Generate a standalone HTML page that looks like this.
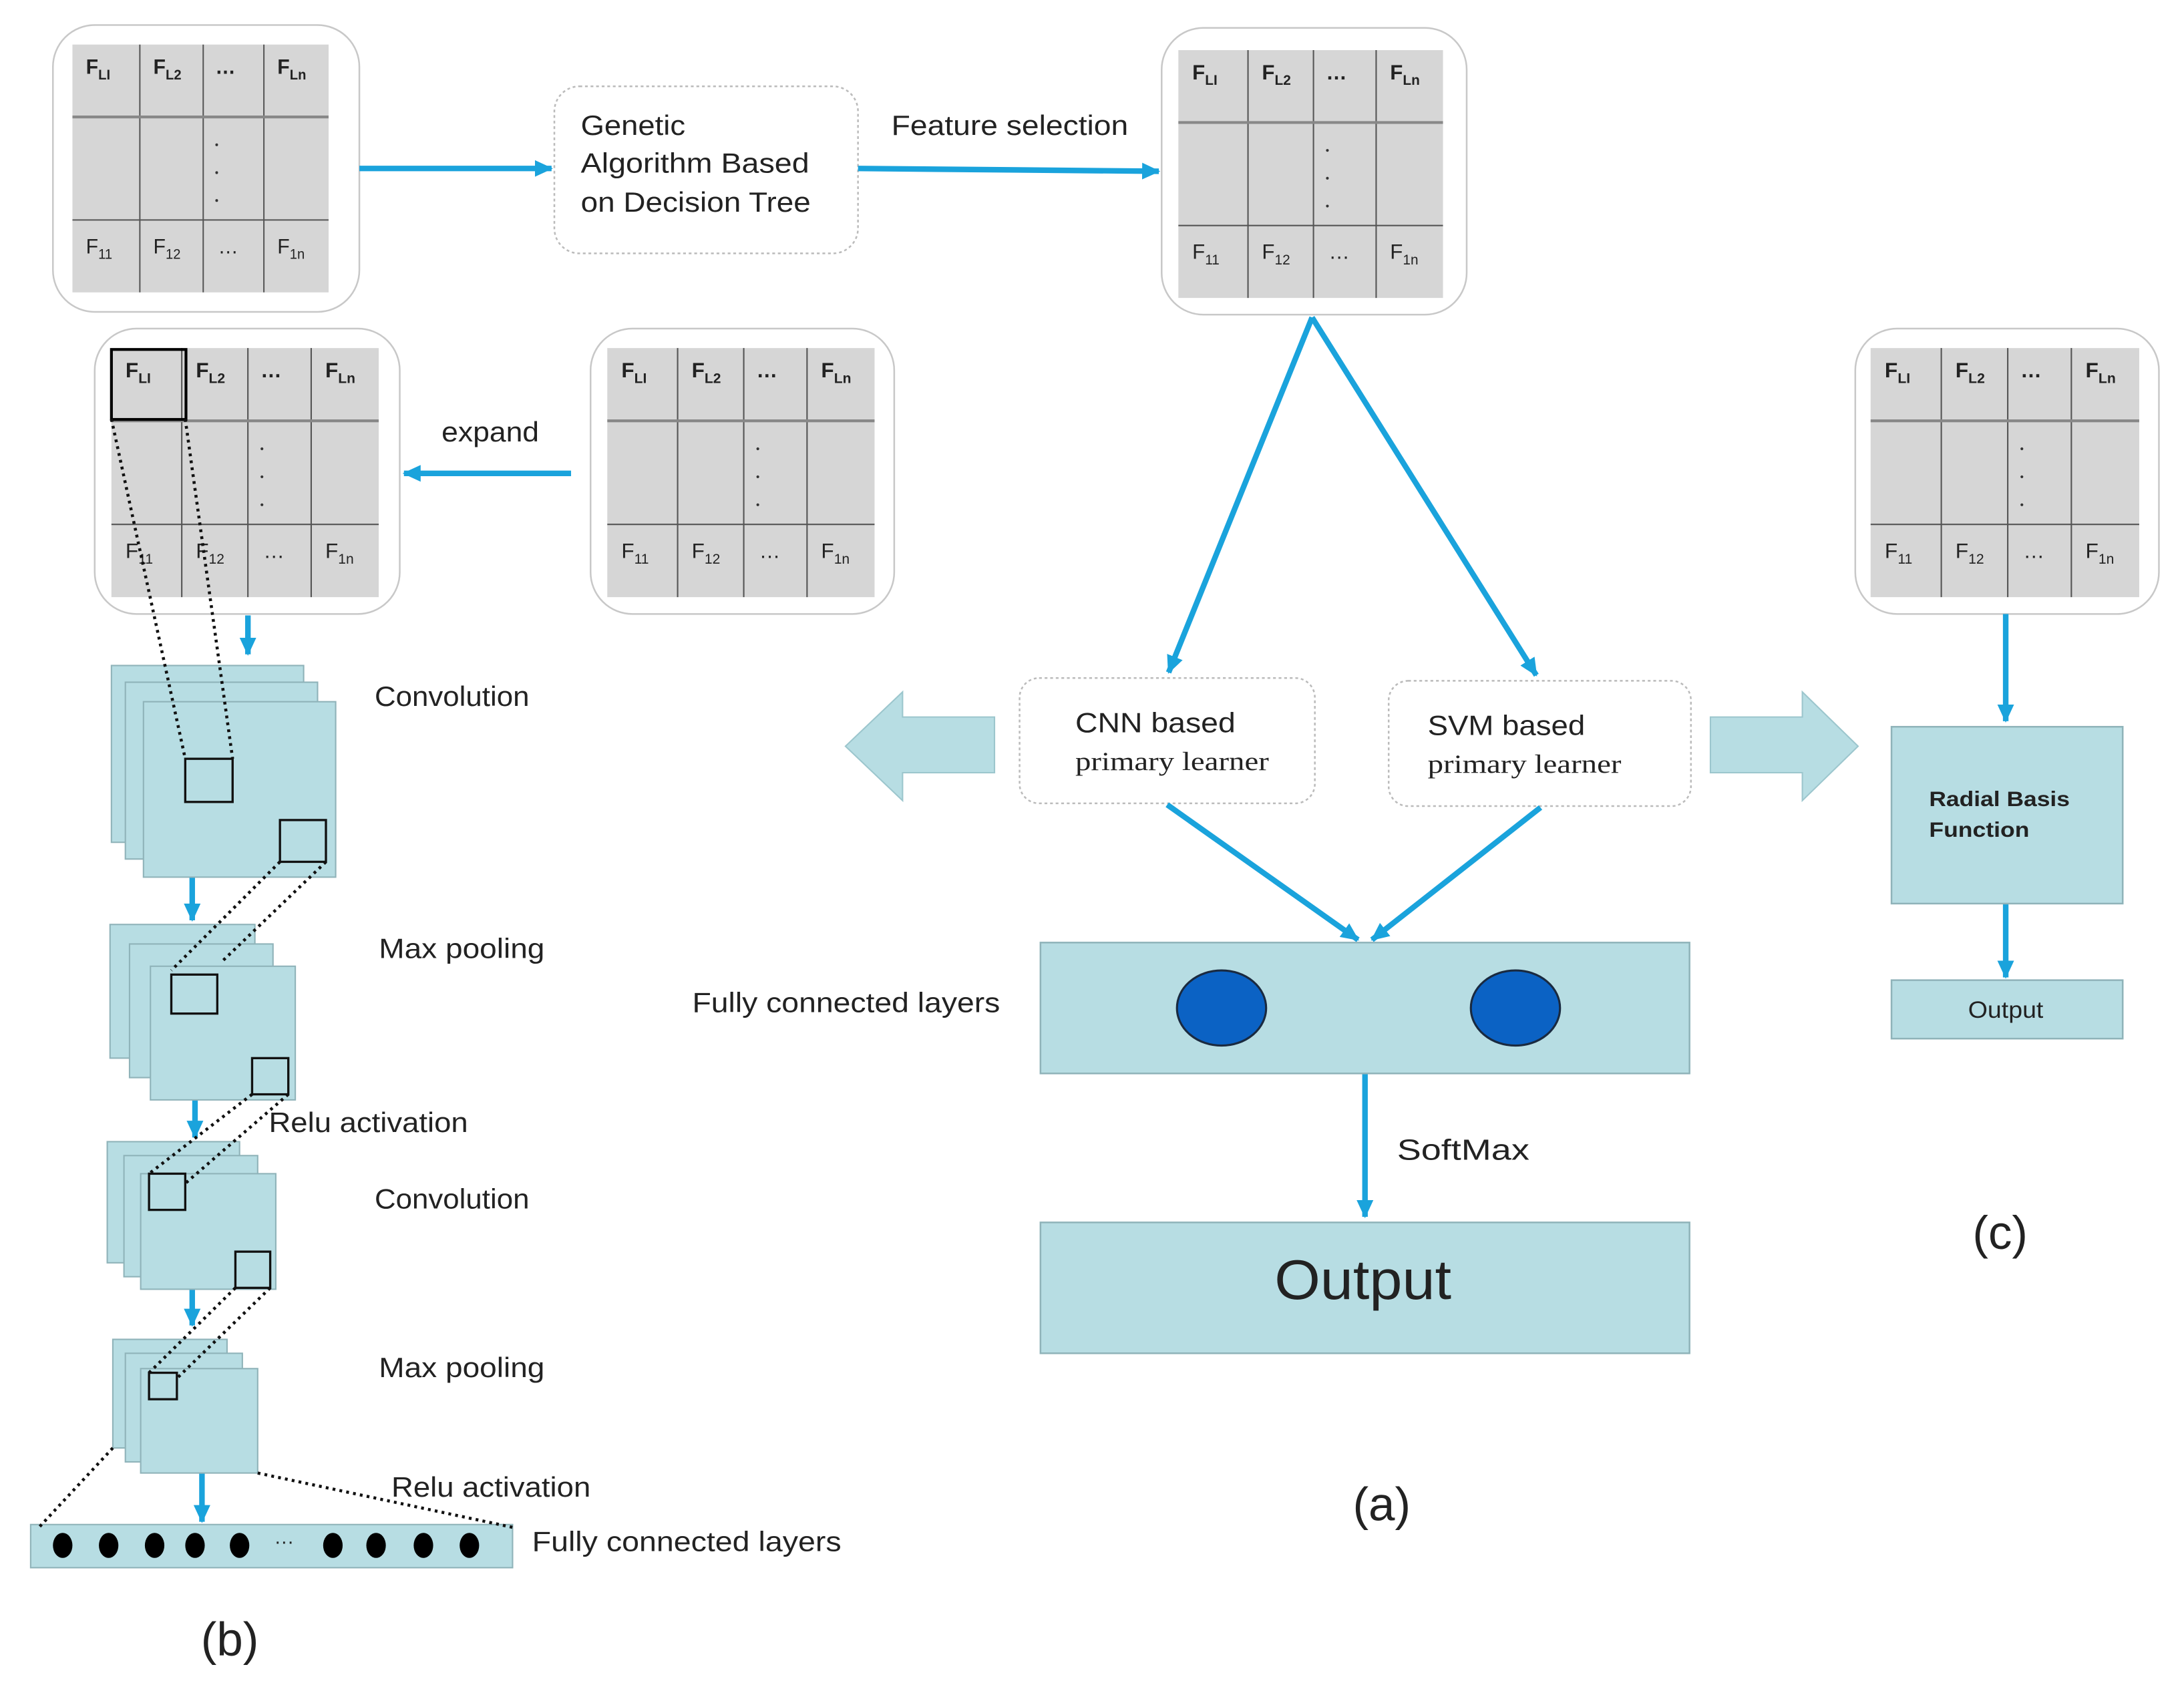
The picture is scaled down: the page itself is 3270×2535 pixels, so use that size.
<!DOCTYPE html>
<html><head><meta charset="utf-8"><style>
html,body{margin:0;padding:0;background:#fff}
svg{display:block}
text{font-family:"Liberation Sans",sans-serif;fill:#222}
</style></head><body>
<svg width="3270" height="2535" viewBox="0 0 1568 1216" preserveAspectRatio="none" xmlns="http://www.w3.org/2000/svg">
<defs>
<marker id="a2" markerWidth="14" markerHeight="14" refX="12" refY="7" orient="auto" markerUnits="userSpaceOnUse"><path d="M0,1 L13,7 L0,13 Z" fill="#1aa3dc"/></marker>
</defs>
<rect width="1568" height="1216" fill="#fff"/>

<g fill="#fff" stroke="#c8c8c8" stroke-width="1.2">
<rect x="38" y="18" width="220" height="206" rx="30"/>
<rect x="834" y="20" width="219" height="206" rx="30"/>
<rect x="68" y="236" width="219" height="205" rx="30"/>
<rect x="424" y="236" width="218" height="205" rx="30"/>
<rect x="1332" y="236" width="218" height="205" rx="30"/>
</g>
<g fill="#fff" stroke="#bbb" stroke-width="1.2" stroke-dasharray="2,2">
<rect x="398" y="62" width="218" height="120" rx="18"/>
<rect x="732" y="487" width="212" height="90" rx="14"/>
<rect x="997" y="489" width="217" height="90" rx="14"/>
</g>

<g id="tables">
<g transform="translate(52,32) scale(0.968,1)">
<rect width="190" height="178" fill="#d6d6d6"/>
<g stroke="#555" stroke-width="1"><line x1="50" y1="0" x2="50" y2="178"/><line x1="97" y1="0" x2="97" y2="178"/><line x1="142" y1="0" x2="142" y2="178"/><line x1="0" y1="52" x2="190" y2="52" stroke="#888" stroke-width="2"/><line x1="0" y1="126" x2="190" y2="126"/></g>
<text y="21" font-size="15" font-weight="bold"><tspan x="10">F</tspan><tspan font-size="10" dy="4">LI</tspan><tspan x="60" dy="-4">F</tspan><tspan font-size="10" dy="4">L2</tspan><tspan x="106" dy="-4">…</tspan><tspan x="152">F</tspan><tspan font-size="10" dy="4">Ln</tspan></text>
<text y="150" font-size="15"><tspan x="10">F</tspan><tspan font-size="10" dy="4">11</tspan><tspan x="60" dy="-4">F</tspan><tspan font-size="10" dy="4">12</tspan><tspan x="108" dy="-4">…</tspan><tspan x="152">F</tspan><tspan font-size="10" dy="4">1n</tspan></text>
<g fill="#333"><circle cx="107" cy="72" r="1"/><circle cx="107" cy="92" r="1"/><circle cx="107" cy="112" r="1"/></g>
</g>
<g transform="translate(846,36) scale(1,1)">
<rect width="190" height="178" fill="#d6d6d6"/>
<g stroke="#555" stroke-width="1"><line x1="50" y1="0" x2="50" y2="178"/><line x1="97" y1="0" x2="97" y2="178"/><line x1="142" y1="0" x2="142" y2="178"/><line x1="0" y1="52" x2="190" y2="52" stroke="#888" stroke-width="2"/><line x1="0" y1="126" x2="190" y2="126"/></g>
<text y="21" font-size="15" font-weight="bold"><tspan x="10">F</tspan><tspan font-size="10" dy="4">LI</tspan><tspan x="60" dy="-4">F</tspan><tspan font-size="10" dy="4">L2</tspan><tspan x="106" dy="-4">…</tspan><tspan x="152">F</tspan><tspan font-size="10" dy="4">Ln</tspan></text>
<text y="150" font-size="15"><tspan x="10">F</tspan><tspan font-size="10" dy="4">11</tspan><tspan x="60" dy="-4">F</tspan><tspan font-size="10" dy="4">12</tspan><tspan x="108" dy="-4">…</tspan><tspan x="152">F</tspan><tspan font-size="10" dy="4">1n</tspan></text>
<g fill="#333"><circle cx="107" cy="72" r="1"/><circle cx="107" cy="92" r="1"/><circle cx="107" cy="112" r="1"/></g>
</g>
<g transform="translate(80,250) scale(1.01,1.005)">
<rect width="190" height="178" fill="#d6d6d6"/>
<g stroke="#555" stroke-width="1"><line x1="50" y1="0" x2="50" y2="178"/><line x1="97" y1="0" x2="97" y2="178"/><line x1="142" y1="0" x2="142" y2="178"/><line x1="0" y1="52" x2="190" y2="52" stroke="#888" stroke-width="2"/><line x1="0" y1="126" x2="190" y2="126"/></g>
<text y="21" font-size="15" font-weight="bold"><tspan x="10">F</tspan><tspan font-size="10" dy="4">LI</tspan><tspan x="60" dy="-4">F</tspan><tspan font-size="10" dy="4">L2</tspan><tspan x="106" dy="-4">…</tspan><tspan x="152">F</tspan><tspan font-size="10" dy="4">Ln</tspan></text>
<text y="150" font-size="15"><tspan x="10">F</tspan><tspan font-size="10" dy="4">11</tspan><tspan x="60" dy="-4">F</tspan><tspan font-size="10" dy="4">12</tspan><tspan x="108" dy="-4">…</tspan><tspan x="152">F</tspan><tspan font-size="10" dy="4">1n</tspan></text>
<g fill="#333"><circle cx="107" cy="72" r="1"/><circle cx="107" cy="92" r="1"/><circle cx="107" cy="112" r="1"/></g>
<rect x="0" y="1" width="53" height="50" fill="none" stroke="#000" stroke-width="2"/>
</g>
<g transform="translate(436,250) scale(1.01,1.005)">
<rect width="190" height="178" fill="#d6d6d6"/>
<g stroke="#555" stroke-width="1"><line x1="50" y1="0" x2="50" y2="178"/><line x1="97" y1="0" x2="97" y2="178"/><line x1="142" y1="0" x2="142" y2="178"/><line x1="0" y1="52" x2="190" y2="52" stroke="#888" stroke-width="2"/><line x1="0" y1="126" x2="190" y2="126"/></g>
<text y="21" font-size="15" font-weight="bold"><tspan x="10">F</tspan><tspan font-size="10" dy="4">LI</tspan><tspan x="60" dy="-4">F</tspan><tspan font-size="10" dy="4">L2</tspan><tspan x="106" dy="-4">…</tspan><tspan x="152">F</tspan><tspan font-size="10" dy="4">Ln</tspan></text>
<text y="150" font-size="15"><tspan x="10">F</tspan><tspan font-size="10" dy="4">11</tspan><tspan x="60" dy="-4">F</tspan><tspan font-size="10" dy="4">12</tspan><tspan x="108" dy="-4">…</tspan><tspan x="152">F</tspan><tspan font-size="10" dy="4">1n</tspan></text>
<g fill="#333"><circle cx="107" cy="72" r="1"/><circle cx="107" cy="92" r="1"/><circle cx="107" cy="112" r="1"/></g>
</g>
<g transform="translate(1343,250) scale(1.015,1.005)">
<rect width="190" height="178" fill="#d6d6d6"/>
<g stroke="#555" stroke-width="1"><line x1="50" y1="0" x2="50" y2="178"/><line x1="97" y1="0" x2="97" y2="178"/><line x1="142" y1="0" x2="142" y2="178"/><line x1="0" y1="52" x2="190" y2="52" stroke="#888" stroke-width="2"/><line x1="0" y1="126" x2="190" y2="126"/></g>
<text y="21" font-size="15" font-weight="bold"><tspan x="10">F</tspan><tspan font-size="10" dy="4">LI</tspan><tspan x="60" dy="-4">F</tspan><tspan font-size="10" dy="4">L2</tspan><tspan x="106" dy="-4">…</tspan><tspan x="152">F</tspan><tspan font-size="10" dy="4">Ln</tspan></text>
<text y="150" font-size="15"><tspan x="10">F</tspan><tspan font-size="10" dy="4">11</tspan><tspan x="60" dy="-4">F</tspan><tspan font-size="10" dy="4">12</tspan><tspan x="108" dy="-4">…</tspan><tspan x="152">F</tspan><tspan font-size="10" dy="4">1n</tspan></text>
<g fill="#333"><circle cx="107" cy="72" r="1"/><circle cx="107" cy="92" r="1"/><circle cx="107" cy="112" r="1"/></g>
</g>
</g>

<text font-size="20" x="417" y="97" textLength="75" lengthAdjust="spacingAndGlyphs">Genetic</text>
<text font-size="20" x="417" y="124" textLength="164" lengthAdjust="spacingAndGlyphs">Algorithm Based</text>
<text font-size="20" x="417" y="152" textLength="165" lengthAdjust="spacingAndGlyphs">on Decision Tree</text>
<text font-size="20" x="640" y="97" textLength="170" lengthAdjust="spacingAndGlyphs">Feature selection</text>
<text font-size="20" x="317" y="317" textLength="70" lengthAdjust="spacingAndGlyphs">expand</text>

<g stroke="#1aa3dc" stroke-width="4" fill="none" marker-end="url(#a2)">
<line x1="258" y1="121" x2="396" y2="121"/>
<line x1="616" y1="121" x2="832" y2="123"/>
<line x1="410" y1="340" x2="290" y2="340"/>
<line x1="942" y1="228" x2="839" y2="483"/>
<line x1="942" y1="228" x2="1103" y2="485"/>
<line x1="838" y1="578" x2="975" y2="675"/>
<line x1="1106" y1="580" x2="985" y2="675"/>
<line x1="980" y1="771" x2="980" y2="874"/>
<line x1="1440" y1="441" x2="1440" y2="518"/>
<line x1="1440" y1="649" x2="1440" y2="702"/>
<line x1="178" y1="442" x2="178" y2="470"/>
<line x1="138" y1="630" x2="138" y2="661"/>
<line x1="140" y1="790" x2="140" y2="817"/>
<line x1="138" y1="926" x2="138" y2="952"/>
<line x1="145" y1="1058" x2="145" y2="1093"/>
</g>

<g fill="#b7dde3" stroke="#9cc6cd" stroke-width="1">
<polygon points="714,515 648,515 648,497 607,536 648,575 648,555 714,555"/>
<polygon points="1228,515 1294,515 1294,497 1334,536 1294,575 1294,555 1228,555"/>
</g>

<text font-size="20" x="772" y="526" textLength="115" lengthAdjust="spacingAndGlyphs">CNN  based</text>
<text font-size="19" x="772" y="553" style="font-family:'Liberation Serif',serif" textLength="139" lengthAdjust="spacingAndGlyphs">primary  learner</text>
<text font-size="20" x="1025" y="528" textLength="113" lengthAdjust="spacingAndGlyphs">SVM based</text>
<text font-size="19" x="1025" y="555" style="font-family:'Liberation Serif',serif" textLength="139" lengthAdjust="spacingAndGlyphs">primary  learner</text>

<g fill="#b7dde3" stroke="#8fb3b9" stroke-width="1.2">
<rect x="747" y="677" width="466" height="94"/>
<rect x="747" y="878" width="466" height="94"/>
<rect x="1358" y="522" width="166" height="127"/>
<rect x="1358" y="704" width="166" height="42"/>
</g>
<ellipse cx="877" cy="724" rx="32" ry="27" fill="#0b62c4" stroke="#1a2a40" stroke-width="1.5"/>
<ellipse cx="1088" cy="724" rx="32" ry="27" fill="#0b62c4" stroke="#1a2a40" stroke-width="1.5"/>
<text font-size="20" x="497" y="727" textLength="221" lengthAdjust="spacingAndGlyphs">Fully connected layers</text>
<text font-size="21" x="1003" y="833" textLength="95" lengthAdjust="spacingAndGlyphs">SoftMax</text>
<text font-size="40" x="915" y="933" textLength="127" lengthAdjust="spacingAndGlyphs">Output</text>
<text font-size="34" x="992" y="1092" text-anchor="middle">(a)</text>
<text font-size="34" x="1436" y="897" text-anchor="middle">(c)</text>
<text font-size="15" font-weight="bold" x="1385" y="579" textLength="101" lengthAdjust="spacingAndGlyphs">Radial Basis</text>
<text font-size="15" font-weight="bold" x="1385" y="601" textLength="72" lengthAdjust="spacingAndGlyphs">Function</text>
<text font-size="17" x="1413" y="731" textLength="54" lengthAdjust="spacingAndGlyphs">Output</text>

<g fill="#b7dde3" stroke="#8fb3b9" stroke-width="1">
<rect x="80" y="478" width="138" height="127"/><rect x="90" y="490" width="138" height="127"/><rect x="103" y="504" width="138" height="126"/>
<rect x="79" y="664" width="104" height="96"/><rect x="93" y="678" width="103" height="96"/><rect x="108" y="694" width="104" height="96"/>
<rect x="77" y="820" width="95" height="87"/><rect x="89" y="830" width="96" height="87"/><rect x="101" y="843" width="97" height="83"/>
<rect x="81" y="962" width="82" height="78"/><rect x="90" y="972" width="84" height="78"/><rect x="101" y="983" width="84" height="75"/>
<rect x="22" y="1095" width="346" height="31"/>
</g>
<g fill="none" stroke="#111" stroke-width="1.6">
<rect x="133" y="545" width="34" height="31"/><rect x="201" y="589" width="33" height="30"/>
<rect x="123" y="700" width="33" height="28"/><rect x="181" y="760" width="26" height="26"/>
<rect x="107" y="843" width="26" height="26"/><rect x="169" y="899" width="25" height="26"/>
<rect x="107" y="986" width="20" height="19"/>
</g>
<g stroke="#111" stroke-width="2.2" stroke-dasharray="2,3" fill="none">
<line x1="80" y1="301" x2="133" y2="545"/><line x1="133" y1="301" x2="167" y2="545"/>
<line x1="201" y1="619" x2="123" y2="697"/><line x1="234" y1="619" x2="160" y2="690"/>
<line x1="181" y1="786" x2="107" y2="843"/><line x1="207" y1="786" x2="133" y2="850"/>
<line x1="169" y1="925" x2="107" y2="986"/><line x1="194" y1="925" x2="127" y2="990"/>
<line x1="81" y1="1040" x2="28" y2="1097"/><line x1="185" y1="1058" x2="368" y2="1097"/>
</g>
<g fill="#000">
<ellipse cx="45" cy="1110" rx="7" ry="9"/><ellipse cx="78" cy="1110" rx="7" ry="9"/><ellipse cx="111" cy="1110" rx="7" ry="9"/><ellipse cx="140" cy="1110" rx="7" ry="9"/><ellipse cx="172" cy="1110" rx="7" ry="9"/>
<ellipse cx="239" cy="1110" rx="7" ry="9"/><ellipse cx="270" cy="1110" rx="7" ry="9"/><ellipse cx="304" cy="1110" rx="7" ry="9"/><ellipse cx="337" cy="1110" rx="7" ry="9"/>
</g>
<text font-size="14" x="197" y="1112" fill="#555">···</text>
<g font-size="20">
<text x="269" y="507" textLength="111" lengthAdjust="spacingAndGlyphs">Convolution</text>
<text x="272" y="688" textLength="119" lengthAdjust="spacingAndGlyphs">Max pooling</text>
<text x="193" y="813" textLength="143" lengthAdjust="spacingAndGlyphs">Relu activation</text>
<text x="269" y="868" textLength="111" lengthAdjust="spacingAndGlyphs">Convolution</text>
<text x="272" y="989" textLength="119" lengthAdjust="spacingAndGlyphs">Max pooling</text>
<text x="281" y="1075" textLength="143" lengthAdjust="spacingAndGlyphs">Relu activation</text>
<text x="382" y="1114" textLength="222" lengthAdjust="spacingAndGlyphs">Fully connected layers</text>
</g>
<text font-size="34" x="165" y="1189" text-anchor="middle">(b)</text>
</svg>
</body></html>
